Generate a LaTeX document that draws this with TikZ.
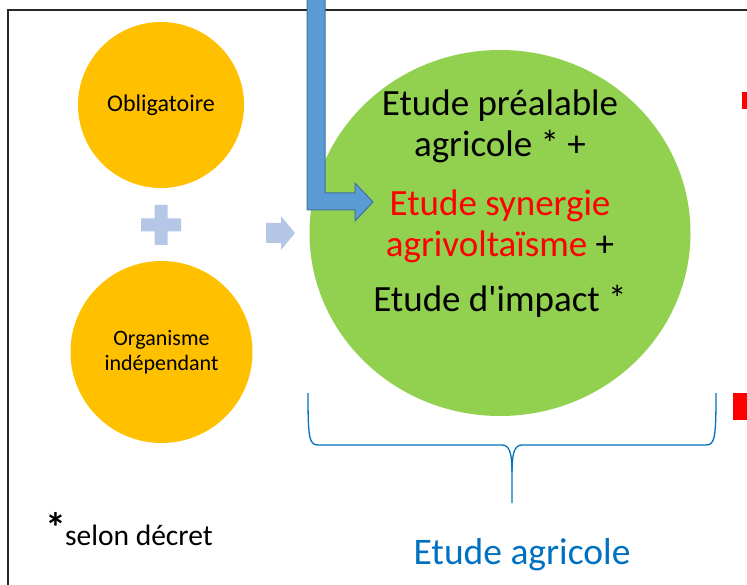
\documentclass[tikz,border=0pt]{standalone}
\usepackage{fontspec}
\setmainfont{Carlito}[Ligatures=TeXOff]
\usetikzlibrary{shapes.geometric,positioning}
\definecolor{orangefill}{HTML}{FFC000}
\definecolor{greenfill}{HTML}{92D050}
\definecolor{arrowblue}{HTML}{5B9BD5}
\definecolor{arrowedge}{HTML}{41719C}
\definecolor{paleblue}{HTML}{B4C7E7}
\definecolor{bracecol}{HTML}{0070C0}

\begin{document}
\begin{tikzpicture}[
  x=1pt, y=-1pt,
  disc/.style={circle, fill=orangefill, inner sep=0pt, align=center, font=\fontsize{22}{25}\selectfont},
  bigdisc/.style={ellipse, fill=greenfill, inner sep=0pt, minimum width=381pt, minimum height=366pt},
  study/.style={align=center, inner sep=0pt, font=\fontsize{37}{41}\selectfont},
  sign/.style={fill=paleblue},
  brace/.style={draw=bracecol, line width=1.3pt},
]
\useasboundingbox (0,0) rectangle (747,585);
\draw[line width=1.2pt, black!85] (747,10) -- (8,10) -- (8,585);

\node[disc, minimum size=166pt, font=\fontsize{24}{27}\selectfont] (obl) at (161,105) {Obligatoire};
\node[disc, minimum size=182pt] (org) at (161.5,352) {Organisme\\indépendant};
\node[bigdisc] (etude) at (500,233) {};
\node[study] (etudetxt) at (500,204) {Etude préalable\\agricole * +\\[18pt]\textcolor{red}{Etude synergie}\\\textcolor{red}{agrivoltaïsme} +\\[14pt]Etude d'impact *};

% plus and arrow between the discs
\fill[sign, shift={(161,225)}] (-6.5,-20) -- (6.5,-20) -- (6.5,-6.5) -- (20,-6.5) -- (20,6.5) -- (6.5,6.5) -- (6.5,20) -- (-6.5,20) -- (-6.5,6.5) -- (-20,6.5) -- (-20,-6.5) -- (-6.5,-6.5) -- cycle;
\fill[sign] (266,223) -- (281,223) -- (281,216) -- (295,233) -- (281,250) -- (281,243) -- (266,243) -- cycle;

% incoming arrow
\filldraw[fill=arrowblue, draw=arrowedge, line width=1pt] (307,-3) -- (325,-3) -- (325,193) -- (355,193) -- (355,183) -- (373,202) -- (355,221) -- (355,210) -- (307,210) -- cycle;

\fill[red] (742,92) rectangle (750,109);
\fill[red] (733,393) rectangle (750,420);

% brace
\draw[brace] (308,393) .. controls (308,437) and (309,445) .. (318,445) -- (502,445) .. controls (509,445) and (512,452) .. (512,472) -- (512,503);
\draw[brace] (716,393) .. controls (716,437) and (715,445) .. (706,445) -- (522,445) .. controls (515,445) and (512,452) .. (512,472);

\node[font=\fontsize{29.5}{32}\selectfont, anchor=base west, inner sep=0pt] (note) at (45,545) {\raisebox{3pt}{\fontsize{42}{42}\selectfont\bfseries*}\kern-1pt selon décret};
\node[font=\fontsize{37.5}{40}\selectfont, text=bracecol, inner sep=0pt] (agri) at (522,555) {Etude agricole};
\end{tikzpicture}
\end{document}
